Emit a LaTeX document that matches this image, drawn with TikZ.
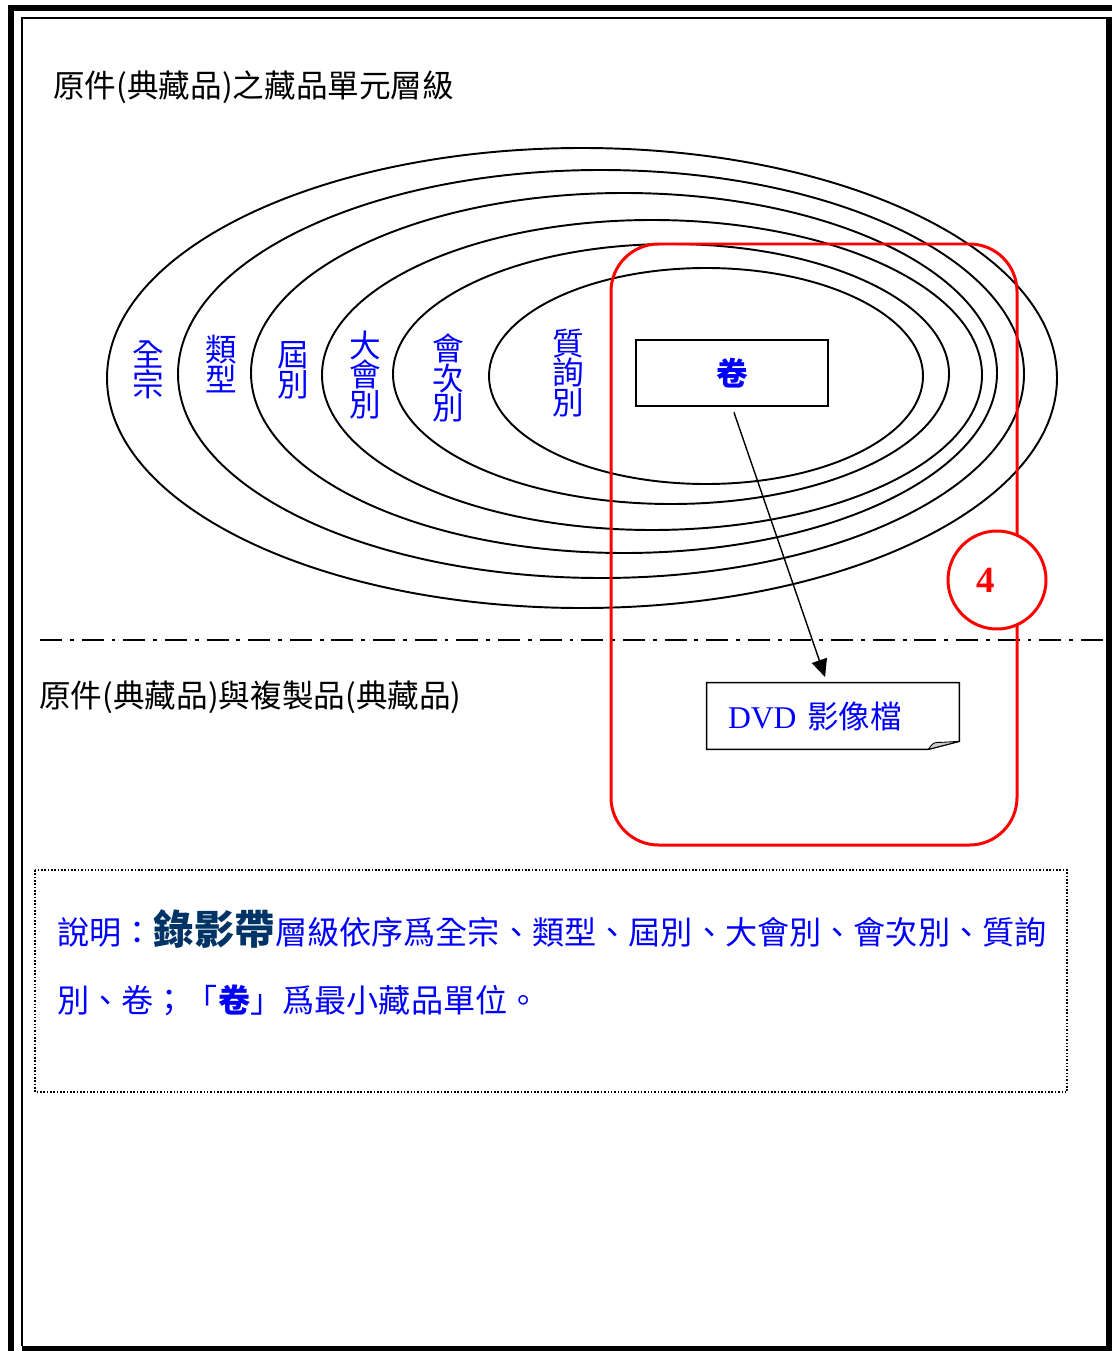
\documentclass[tikz,border=0pt]{standalone}
\usepackage{fontspec}
\setmainfont{Liberation Serif}
\newfontfamily\cjk{Noto Sans CJK TC}
\usetikzlibrary{arrows.meta,calc}
\definecolor{tapenavy}{RGB}{0,51,102}
\tikzset{>={Triangle[length=10pt,width=9pt]},
  ring/.style={line width=1.1pt},
  level/.style={text=blue,font=\cjk\fontsize{18}{17}\selectfont,align=center,inner sep=0pt},
  heading/.style={anchor=west,inner sep=0pt,font=\cjk\fontsize{18}{20}\selectfont},
  note/.style={anchor=base west,inner sep=0pt,text=blue,font=\cjk\fontsize{18.3}{20}\selectfont},
  juanbox/.style={draw,line width=0.8pt,text=blue,minimum width=3.84cm,minimum height=1.32cm,font=\cjk\bfseries\fontsize{18}{20}\selectfont},
  dvdbox/.style={text=blue,text width=4.2cm,align=left,inner xsep=0.42cm,minimum height=1.32cm,font=\fontsize{18}{20}\selectfont},
  badge/.style={circle,draw=red,fill=white,line width=1.7pt,minimum size=1.96cm,inner sep=0pt}}

\begin{document}
\begin{tikzpicture}[x=0.02cm,y=-0.02cm]
\useasboundingbox (0,0) rectangle (1112,1351);
% page frame
\draw[line width=3.4pt] (8,8) -- (1112,8);
\draw[line width=3.4pt] (11,5) -- (11,1351);
\draw[line width=1.1pt] (22,1346) -- (22,18) -- (1106,18);
\draw[line width=3.4pt] (1109,17) -- (1109,1351);
\draw[line width=3pt] (22,1348.5) -- (1112,1348.5);

\node[heading] (top) at (53,87) {原件(典藏品)之藏品單元層級};

% levels
\draw[ring] (582,378) ellipse [x radius=475, y radius=230];
\draw[ring] (601,374) ellipse [x radius=423, y radius=204];
\draw[ring] (624,373) ellipse [x radius=373, y radius=180];
\draw[ring] (652,375) ellipse [x radius=330, y radius=155];
\draw[ring] (671,374) ellipse [x radius=278, y radius=130];
\draw[ring] (706,376) ellipse [x radius=217, y radius=108];

\node[level] (quanzong) at (148,370) {全\\宗};
\node[level] (leixing) at (221,364) {類\\型};
\node[level] (jiebie) at (293,370) {屆\\別};
\node[level] (dahui) at (365,375) {大\\會\\別};
\node[level] (huici) at (448,378) {會\\次\\別};
\node[level] (zhixun) at (568,373) {質\\詢\\別};
\node[juanbox] (juan) at (732,373) {卷};

\draw[line width=0.85pt,dash pattern=on 12.5pt off 4.5pt on 2.2pt off 4.5pt] (40,640) -- (1106,640);

\node[heading] (copy) at (39,697) {原件(典藏品)與複製品(典藏品)};

% DVD note
\node[dvdbox] (dvd) at (833,716) {DVD {\cjk 影像檔}};
\draw[line width=0.8pt] (dvd.south west) -- (dvd.north west) -- (dvd.north east)
  -- ($(dvd.south east)+(0,-8)$) -- ($(dvd.south east)+(-31,0)$) -- cycle;
\filldraw[fill=gray!40,line width=0.5pt] ($(dvd.south east)+(-31,0)$)
  .. controls ($(dvd.south east)+(-26,-7)$) .. ($(dvd.south east)+(-18,-7)$)
  -- ($(dvd.south east)+(0,-8)$) -- cycle;

\draw[red,line width=1.7pt,rounded corners=0.95cm] (611,244) rectangle (1017,845);
\node[badge] (badge) at (997,580) {};
\node[text=red,font=\bfseries\fontsize{21}{21}\selectfont] (num) at ($(badge.center)+(-11,0)$) {4};

\draw[->,line width=0.8pt,shorten <=3.4pt,shorten >=3.4pt] (juan.south) -- ($(dvd.north)+(-6,0)$);

% explanation
\draw[densely dotted,line width=0.9pt] (35,870) rectangle (1067,1092);
\node[note] (note1) at (57,944) {說明：{\bfseries\fontsize{23}{23}\selectfont\color{tapenavy}錄影帶}層級依序爲全宗、類型、屆別、大會別、會次別、質詢};
\node[note] (note2) at (57,1012) {別、卷；「{\bfseries 卷}」爲最小藏品單位。};
\end{tikzpicture}
\end{document}
